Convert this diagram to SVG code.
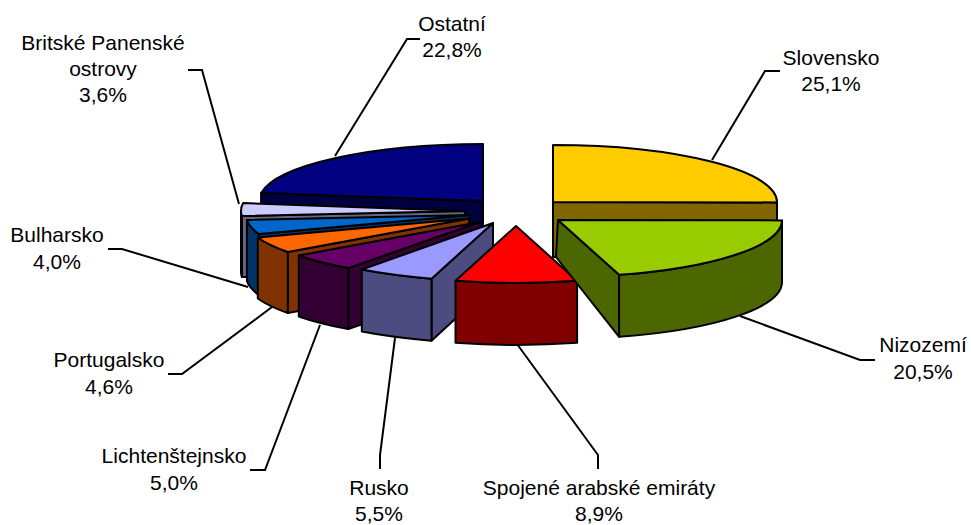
<svg xmlns="http://www.w3.org/2000/svg" width="971" height="525" viewBox="0 0 971 525">
<style>
.f{stroke:#000;stroke-width:2;stroke-linejoin:round}
.ld{fill:none;stroke:#000;stroke-width:2}
text{font-family:"Liberation Sans",Arial,sans-serif;font-size:21px;fill:#000;text-anchor:middle}
</style>
<rect width="971" height="525" fill="#fff"/>
<g id="connectors">
<polyline class="ld" points="420,39 407,39 335,156"/>
<polyline class="ld" points="188,70 202,70 239,204"/>
<polyline class="ld" points="780,71 765,71 712,160"/>
<polyline class="ld" points="875,360 860,360 740,316"/>
<polyline class="ld" points="517,344 598,455 598,469"/>
<polyline class="ld" points="395,338 380,455 380,469"/>
<polyline class="ld" points="320,325 265,470 250,470"/>
<polyline class="ld" points="272,307 182,374 168,374"/>
<polyline class="ld" points="108,249 122,249 248,287"/>
</g>
<g id="ostatni">
<path class="f" fill="#000040" d="M483,201 L261.1,193.1 L261.1,254.1 L483,262 Z"/>
<path class="f" fill="#000080" d="M483,201 L261.1,193.1 A224,57 0 0 1 483,144 Z"/>
</g>
<g id="slovensko">
<path class="f" fill="#806600" d="M553,202 L777,202.4 L777,263 L553,257 Z"/>
<path class="f" fill="#FFCC00" d="M553,202 L553,145 A224,57 0 0 1 777,202.4 Z"/>
</g>
<g id="britske">
<path class="f" fill="#666680" d="M465,211 L241.9,216 L241.9,277 L465,272 Z"/>
<path class="f" fill="#666680" d="M241.9,216 A224,57 0 0 1 241,211 L241,272 A224,57 0 0 0 241.9,277 Z"/>
<path class="f" fill="#CCCCFF" d="M465,211 L241.9,216 A224,57 0 0 1 243.1,203.1 Z"/>
</g>
<g id="bulharsko">
<path class="f" fill="#003366" d="M470,215 L258.8,234 L258.8,295 L470,276 Z"/>
<path class="f" fill="#003366" d="M258.8,234 A224,57 0 0 1 246.9,220 L246.9,281 A224,57 0 0 0 258.8,295 Z"/>
<path class="f" fill="#0066CC" d="M470,215 L258.8,234 A224,57 0 0 1 246.9,220 Z"/>
</g>
<g id="portugalsko">
<path class="f" fill="#803300" d="M469,218.5 L287.8,252 L287.8,313 L469,279.5 Z"/>
<path class="f" fill="#803300" d="M287.8,252 A224,57 0 0 1 257.8,237.5 L257.8,298.5 A224,57 0 0 0 287.8,313 Z"/>
<path class="f" fill="#FF6600" d="M469,218.5 L287.8,252 A224,57 0 0 1 257.8,237.5 Z"/>
</g>
<g id="lichtenstejnsko">
<path class="f" fill="#330033" d="M480,222 L348.3,268.1 L348.3,329.1 L480,283 Z"/>
<path class="f" fill="#330033" d="M348.3,268.1 A224,57 0 0 1 298.8,255.5 L298.8,316.5 A224,57 0 0 0 348.3,329.1 Z"/>
<path class="f" fill="#660066" d="M480,222 L348.3,268.1 A224,57 0 0 1 298.8,255.5 Z"/>
</g>
<g id="rusko">
<path class="f" fill="#4C4C80" d="M493,223 L431.5,278.7 L431.5,340.7 L493,284 Z"/>
<path class="f" fill="#4C4C80" d="M431.5,278.7 A224,57 0 0 1 361.8,269.6 L361.8,331.6 A224,57 0 0 0 431.5,340.7 Z"/>
<path class="f" fill="#9999FF" d="M493,223 L431.5,278.7 A224,57 0 0 1 361.8,269.6 Z"/>
</g>
<g id="sae">
<path class="f" fill="#800000" d="M577.1,280.8 A224,57 0 0 1 455.5,280.7 L455.5,342.7 A224,57 0 0 0 577.1,342.8 Z"/>
<path class="f" fill="#FF0000" d="M516,226 L577.1,280.8 A224,57 0 0 1 455.5,280.7 Z"/>
</g>
<g id="nizozemi">
<path class="f" fill="#4C6600" d="M558,220 L619.1,274.8 L619.1,336.8 L556,257 Z"/>
<path class="f" fill="#4C6600" d="M782,220.4 A224,57 0 0 1 619.1,274.8 L619.1,336.8 A224,57 0 0 0 782,281.4 Z"/>
<path class="f" fill="#99CC00" d="M558,220 L782,220.4 A224,57 0 0 1 619.1,274.8 Z"/>
</g>
<g id="labels">
<text x="452" y="31">Ostatní</text>
<text x="452" y="57">22,8%</text>
<text x="103" y="50">Britské Panenské</text>
<text x="103" y="76">ostrovy</text>
<text x="103" y="102">3,6%</text>
<text x="831" y="65">Slovensko</text>
<text x="831" y="91">25,1%</text>
<text x="923" y="352">Nizozemí</text>
<text x="923" y="379">20,5%</text>
<text x="599" y="495">Spojené arabské emiráty</text>
<text x="599" y="521">8,9%</text>
<text x="379" y="495">Rusko</text>
<text x="379" y="521">5,5%</text>
<text x="174" y="463">Lichtenštejnsko</text>
<text x="174" y="490">5,0%</text>
<text x="109" y="367">Portugalsko</text>
<text x="109" y="394">4,6%</text>
<text x="57" y="242">Bulharsko</text>
<text x="57" y="269">4,0%</text>
</g>
</svg>
